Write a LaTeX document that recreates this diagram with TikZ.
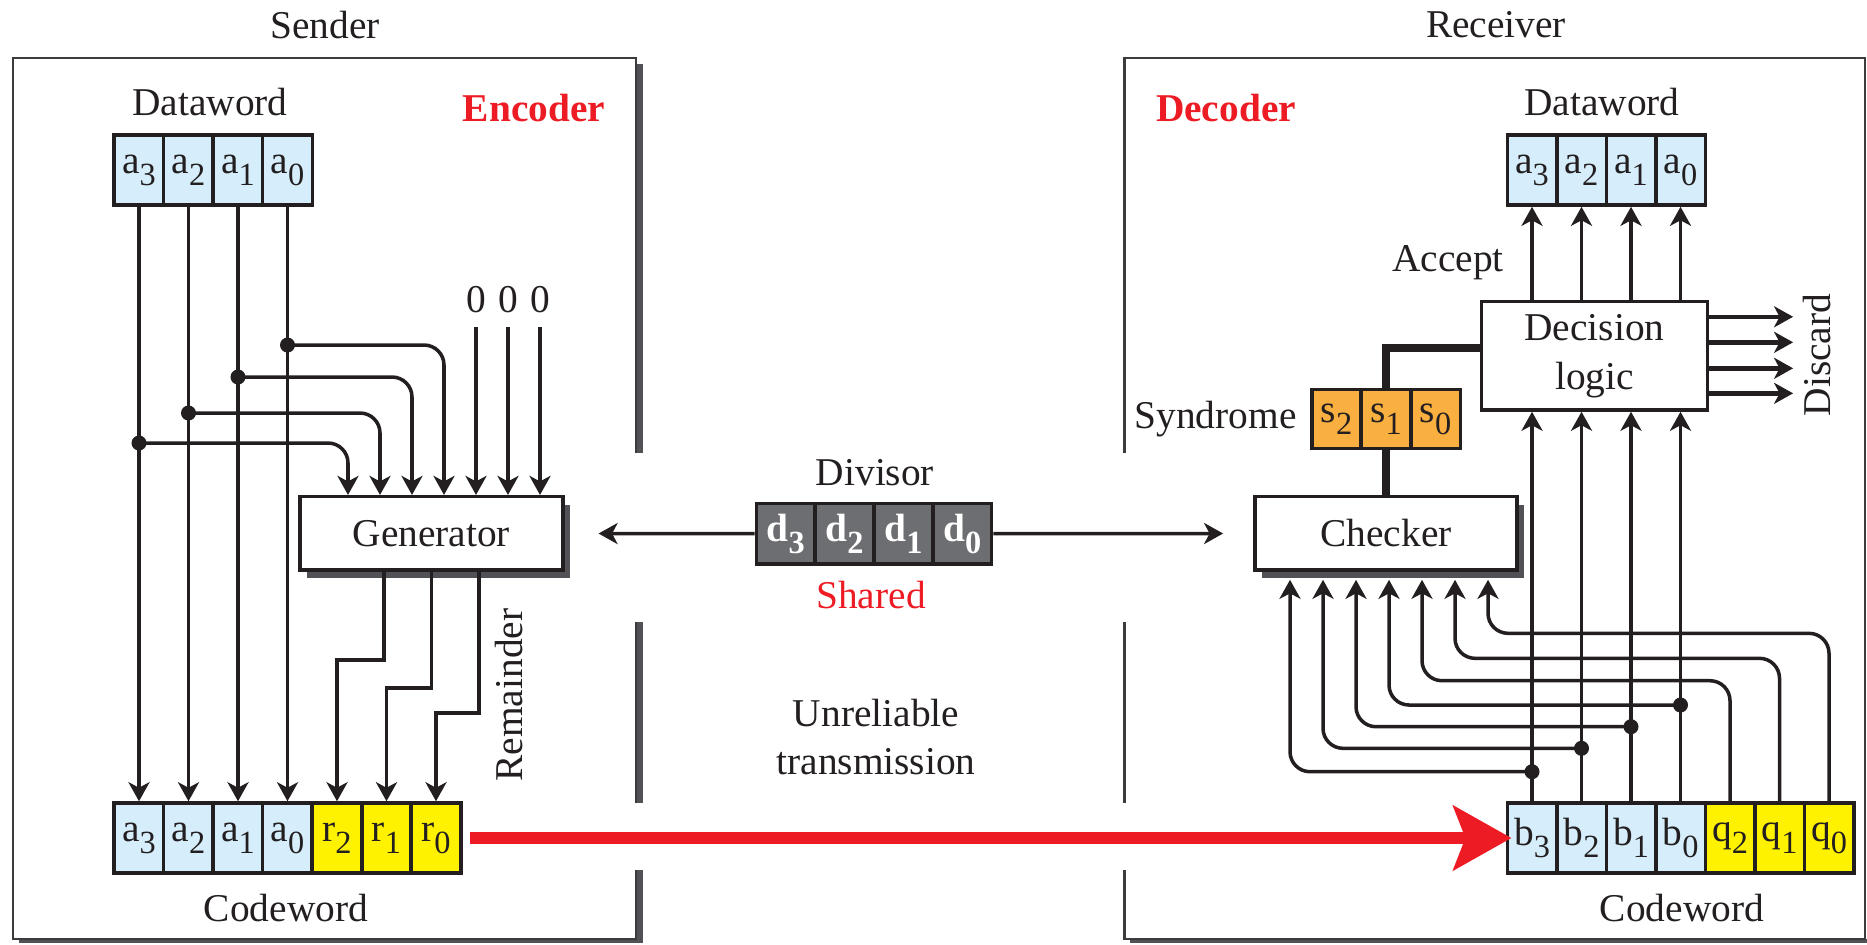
\documentclass[tikz,border=0pt]{standalone}
\usepackage{fontspec}
\setmainfont{Liberation Serif}
\usetikzlibrary{positioning, arrows.meta, shadows}

\definecolor{cellblue}{RGB}{214,238,251}
\definecolor{cellyellow}{RGB}{255,242,0}
\definecolor{cellorange}{RGB}{249,176,64}
\definecolor{divgray}{RGB}{109,110,113}
\definecolor{shadowgray}{RGB}{82,82,86}
\definecolor{framegray}{RGB}{60,60,62}
\definecolor{titlered}{RGB}{237,28,36}
\definecolor{ink}{RGB}{35,31,32}

\newcommand{\bitname}[2]{#1\raisebox{-0.3em}{\fontsize{9.2}{9.2}\selectfont #2}}

\begin{document}
\begin{tikzpicture}[x=0.01cm, y=-0.01cm, color=ink, line width=1pt,
        font=\fontsize{11.2}{13.9}\selectfont,
        >={Stealth[length=0.19cm, width=0.21cm, inset=0.055cm]},
        bitcell/.style={draw, inner sep=0pt, minimum width=0.495cm, minimum height=0.70cm},
        data bit/.style={bitcell, fill=cellblue},
        check bit/.style={bitcell, fill=cellyellow},
        syndrome bit/.style={bitcell, fill=cellorange, minimum height=0.59cm},
        divisor bit/.style={bitcell, fill=divgray, text=white, font=\fontsize{11.2}{13.9}\selectfont\bfseries, minimum width=0.588cm, minimum height=0.607cm},
        unitbox/.style={draw, fill=white, inner sep=0pt},
        boxshadow/.style={general shadow={fill=shadowgray, shadow xshift=0.07cm, shadow yshift=-0.08cm}},
        wire/.style={->},
        tap/.style={circle, fill, inner sep=0pt, minimum size=0.15cm},
        title/.style={text=titlered, font=\fontsize{11.2}{13.9}\selectfont\bfseries},
        outline/.style={framegray, line width=0.8pt},
        transmit/.style={titlered, line width=0.12cm, -{Stealth[length=0.58cm, width=0.64cm, inset=0.12cm]}},
        syndrome link/.style={line width=2.3pt}]
    \useasboundingbox (0,0) rectangle (1867,944);

    % frames of both stations
    \fill[shadowgray] (636,64) rectangle (643,453);
    \fill[shadowgray] (636,622) rectangle (643,803);
    \fill[shadowgray] (636,870) rectangle (643,943);
    \fill[shadowgray] (19,939) rectangle (643,943);
    \fill[shadowgray] (1130,939) rectangle (1867,943);
    \draw[outline] (636,453) -- (636,58) -- (13,58) -- (13,939) -- (636,939) -- (636,870);
    \draw[outline] (636,622) -- (636,803);
    \draw[outline] (1124.5,453) -- (1124.5,58) -- (1865,58) -- (1865,939) -- (1124.5,939) -- (1124.5,870);
    \draw[outline] (1124.5,622) -- (1124.5,803);

    \node (Sender) at (325,25) {Sender};
    \node (Receiver) at (1496,25) {Receiver};
    \node[title] (Encoder) at (534,108) {Encoder};
    \node[title] (Decoder) at (1226,108) {Decoder};

    % sender
    \node (Sender Dataword) at (210,102) {Dataword};
    \node[data bit] (Data a3) at (139,170) {\bitname{a}{3}};
    \node[data bit] (Data a2) at (188.5,170) {\bitname{a}{2}};
    \node[data bit] (Data a1) at (238,170) {\bitname{a}{1}};
    \node[data bit] (Data a0) at (287.5,170) {\bitname{a}{0}};

    \node[data bit] (Code a3) at (139,838) {\bitname{a}{3}};
    \node[data bit] (Code a2) at (188.5,838) {\bitname{a}{2}};
    \node[data bit] (Code a1) at (238,838) {\bitname{a}{1}};
    \node[data bit] (Code a0) at (287.5,838) {\bitname{a}{0}};
    \node[check bit] (Code r2) at (337,838) {\bitname{r}{2}};
    \node[check bit] (Code r1) at (386.5,838) {\bitname{r}{1}};
    \node[check bit] (Code r0) at (436,838) {\bitname{r}{0}};
    \node (Sender Codeword) at (286,908) {Codeword};

    \node[unitbox, boxshadow, minimum width=2.627cm, minimum height=0.733cm] (Generator) at (431.35,533.35) {Generator};
    \node (Zero 2) at (476,300) {0};
    \node (Zero 1) at (508,300) {0};
    \node (Zero 0) at (540,300) {0};
    \node[rotate=90] (Remainder) at (509,695) {Remainder};

    \node[tap] (Tap a0) at (287.5,345) {};
    \node[tap] (Tap a1) at (238,377) {};
    \node[tap] (Tap a2) at (188.5,413) {};
    \node[tap] (Tap a3) at (139,443) {};

    \draw[wire] (Data a3) -- (Code a3);
    \draw[wire] (Data a2) -- (Code a2);
    \draw[wire] (Data a1) -- (Code a1);
    \draw[wire] (Data a0) -- (Code a0);
    \draw[wire, rounded corners=0.2cm] (Tap a3.center) -| (348,0 |- Generator.north);
    \draw[wire, rounded corners=0.2cm] (Tap a2.center) -| (380,0 |- Generator.north);
    \draw[wire, rounded corners=0.2cm] (Tap a1.center) -| (412,0 |- Generator.north);
    \draw[wire, rounded corners=0.2cm] (Tap a0.center) -| (444,0 |- Generator.north);
    \draw[wire] (Zero 2) -- (Zero 2 |- Generator.north);
    \draw[wire] (Zero 1) -- (Zero 1 |- Generator.north);
    \draw[wire] (Zero 0) -- (Zero 0 |- Generator.north);
    \draw[wire] (384,0 |- Generator.south) |- (337,660) -- (Code r2);
    \draw[wire] (Generator.south) |- (386.5,688) -- (Code r1);
    \draw[wire] (479,0 |- Generator.south) |- (436,713) -- (Code r0);

    % shared divisor
    \node (Divisor) at (875,473) {Divisor};
    \node[divisor bit] (Div d3) at (785.8,533.7) {\bitname{d}{3}};
    \node[divisor bit] (Div d2) at (844.6,533.7) {\bitname{d}{2}};
    \node[divisor bit] (Div d1) at (903.4,533.7) {\bitname{d}{1}};
    \node[divisor bit] (Div d0) at (962.2,533.7) {\bitname{d}{0}};
    \node[text=titlered] (Shared) at (871,595) {Shared};
    \node[align=center] (Unreliable) at (876,737) {Unreliable\\transmission};

    % receiver
    \node (Recv Dataword) at (1602,102) {Dataword};
    \node[data bit] (Recv Data a3) at (1532,170) {\bitname{a}{3}};
    \node[data bit] (Recv Data a2) at (1581.5,170) {\bitname{a}{2}};
    \node[data bit] (Recv Data a1) at (1631,170) {\bitname{a}{1}};
    \node[data bit] (Recv Data a0) at (1680.5,170) {\bitname{a}{0}};
    \node (Accept) at (1448,263) {Accept};
    \node[unitbox, minimum width=2.255cm, minimum height=1.083cm, align=center] (Decision logic) at (1594.5,355.8) {Decision\\logic};
    \node[rotate=90] (Discard) at (1817,355) {Discard};
    \node[unitbox, boxshadow, minimum width=2.621cm, minimum height=0.733cm] (Checker) at (1386,533.35) {Checker};

    \node[data bit] (Recv Code b3) at (1532,838) {\bitname{b}{3}};
    \node[data bit] (Recv Code b2) at (1581.5,838) {\bitname{b}{2}};
    \node[data bit] (Recv Code b1) at (1631,838) {\bitname{b}{1}};
    \node[data bit] (Recv Code b0) at (1680.5,838) {\bitname{b}{0}};
    \node[check bit] (Recv Code q2) at (1730,838) {\bitname{q}{2}};
    \node[check bit] (Recv Code q1) at (1779.5,838) {\bitname{q}{1}};
    \node[check bit] (Recv Code q0) at (1829,838) {\bitname{q}{0}};
    \node (Recv Codeword) at (1682,908) {Codeword};

    \draw[syndrome link] (Checker) -- (1386,448);
    \node[syndrome bit] (Syn s2) at (1336.5,419) {\bitname{s}{2}};
    \node[syndrome bit] (Syn s1) at (1386,419) {\bitname{s}{1}};
    \node[syndrome bit] (Syn s0) at (1435.5,419) {\bitname{s}{0}};
    \node[left=0pt of Syn s2] (Syndrome) {Syndrome};
    \draw[syndrome link] (Syn s1) |- ([yshift=0.075cm]Decision logic.west);

    \draw[wire, shorten >=0.34cm] (Div d3) -- (Generator);
    \draw[wire, shorten >=0.30cm] (Div d0) -- (Checker);

    \node[tap] (Tap b3) at (1532,771.7) {};
    \node[tap] (Tap b2) at (1581.5,748.3) {};
    \node[tap] (Tap b1) at (1631,726.7) {};
    \node[tap] (Tap b0) at (1680.5,705) {};

    \draw[wire] (Recv Code b3) -- (Recv Code b3 |- Decision logic.south);
    \draw[wire] (Recv Code b2) -- (Recv Code b2 |- Decision logic.south);
    \draw[wire] (Recv Code b1) -- (Recv Code b1 |- Decision logic.south);
    \draw[wire] (Recv Code b0) -- (Recv Code b0 |- Decision logic.south);
    \draw[wire, rounded corners=0.2cm, shorten >=0.08cm] (Tap b3.center) -| (1290,0 |- Checker.south);
    \draw[wire, rounded corners=0.2cm, shorten >=0.08cm] (Tap b2.center) -| (1323,0 |- Checker.south);
    \draw[wire, rounded corners=0.2cm, shorten >=0.08cm] (Tap b1.center) -| (1356,0 |- Checker.south);
    \draw[wire, rounded corners=0.2cm, shorten >=0.08cm] (Tap b0.center) -| (1389,0 |- Checker.south);
    \draw[wire, rounded corners=0.2cm, shorten >=0.08cm] (Recv Code q2) |- (1422,680.7) -- (1422,0 |- Checker.south);
    \draw[wire, rounded corners=0.2cm, shorten >=0.08cm] (Recv Code q1) |- (1455,658.3) -- (1455,0 |- Checker.south);
    \draw[wire, rounded corners=0.2cm, shorten >=0.08cm] (Recv Code q0) |- (1488,633.3) -- (1488,0 |- Checker.south);

    \draw[wire] (Recv Data a3 |- Decision logic.north) -- (Recv Data a3);
    \draw[wire] (Recv Data a2 |- Decision logic.north) -- (Recv Data a2);
    \draw[wire] (Recv Data a1 |- Decision logic.north) -- (Recv Data a1);
    \draw[wire] (Recv Data a0 |- Decision logic.north) -- (Recv Data a0);
    \draw[wire, line width=1.3pt] ([yshift=0.39cm]Decision logic.east) -- ++(84,0);
    \draw[wire, line width=1.3pt] ([yshift=0.135cm]Decision logic.east) -- ++(84,0);
    \draw[wire, line width=1.3pt] ([yshift=-0.125cm]Decision logic.east) -- ++(84,0);
    \draw[wire, line width=1.3pt] ([yshift=-0.375cm]Decision logic.east) -- ++(84,0);

    % unreliable channel
    \draw[transmit] ([xshift=0.07cm]Code r0.east) -- ([xshift=0.06cm]Recv Code b3.west);
\end{tikzpicture}
\end{document}
